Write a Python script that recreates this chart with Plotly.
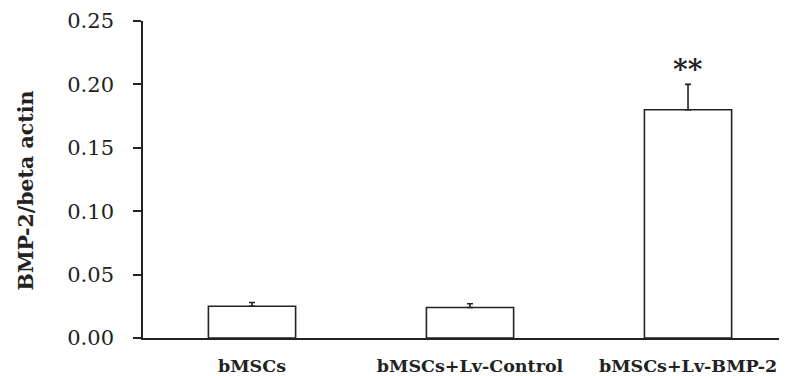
import plotly.graph_objects as go

categories = ["bMSCs", "bMSCs+Lv-Control", "bMSCs+Lv-BMP-2"]
values = [0.025, 0.024, 0.180]
errors = [0.003, 0.003, 0.020]
sig_labels = ["", "", "**"]
y_ticks = [0.00, 0.05, 0.10, 0.15, 0.20, 0.25]
y_tick_text = ["0.00", "0.05", "0.10", "0.15", "0.20", "0.25"]
y_title = "BMP-2/beta actin"

serif = "DejaVu Serif"
axis_color = "#222222"

fig = go.Figure()
fig.add_trace(go.Bar(
    x=categories,
    y=values,
    width=0.40,
    marker=dict(color="white", line=dict(color=axis_color, width=1.6)),
    error_y=dict(type="data", array=errors, arrayminus=[0, 0, 0], symmetric=False,
                 color=axis_color, thickness=1.6, width=3),
    showlegend=False,
))

for c, v, e, s in zip(categories, values, errors, sig_labels):
    if s:
        fig.add_annotation(x=c, y=v + e, text=f"<b>{s}</b>", showarrow=False,
                           yanchor="bottom", yshift=-4,
                           font=dict(family=serif, size=28, color=axis_color))

# y-axis title as a rotated annotation (slightly below the plot centre, as in the source)
fig.add_annotation(xref="paper", yref="paper", x=-0.181, y=0.467,
                   text=f"<b>{y_title}</b>", textangle=-90, showarrow=False,
                   xanchor="center", yanchor="middle",
                   font=dict(family=serif, size=20.5, color=axis_color))

# page body has an 8px default margin, so the figure is sized to fit the window
fig.update_layout(
    width=779, height=368,
    margin=dict(l=135, r=0, t=13, b=38, autoexpand=False),
    paper_bgcolor="white", plot_bgcolor="white",
    xaxis=dict(
        type="category",
        range=[-0.5, 2.454],
        showline=True, linecolor=axis_color, linewidth=1.6,
        ticks="", showgrid=False, zeroline=False,
        tickfont=dict(family=serif, size=17.5, color=axis_color, weight="bold"),
        ticklabelstandoff=11,
    ),
    yaxis=dict(
        range=[0, 0.25],
        tickvals=y_ticks, ticktext=y_tick_text,
        showline=True, linecolor=axis_color, linewidth=1.6,
        ticks="outside", ticklen=8, tickwidth=1.6, tickcolor=axis_color,
        showgrid=False, zeroline=False,
        tickfont=dict(family=serif, size=21, color=axis_color),
        ticklabelstandoff=15,
    ),
)

fig.write_html("out.html")
